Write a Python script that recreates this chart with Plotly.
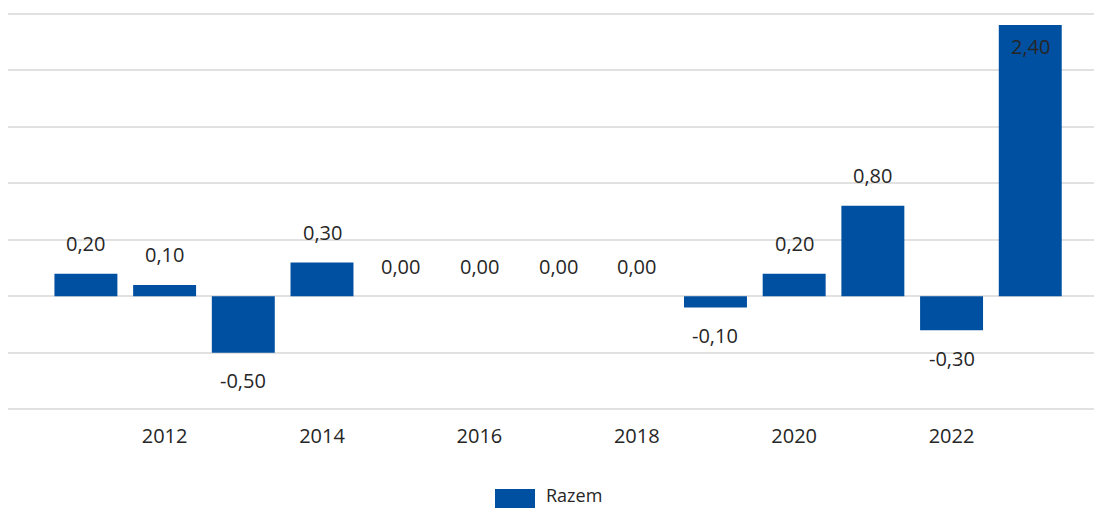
import plotly.graph_objects as go

# Annual change, "Razem" series
years = [2011, 2012, 2013, 2014, 2015, 2016, 2017, 2018, 2019, 2020, 2021, 2022, 2023]
razem = [0.20, 0.10, -0.50, 0.30, 0.00, 0.00, 0.00, 0.00, -0.10, 0.20, 0.80, -0.30, 2.40]
series_name = "Razem"

BAR_COLOR = "#0050a2"
TEXT_COLOR = "#262626"
GRID_COLOR = "#e1e1e1"
FONT = "Open Sans, Noto Sans, sans-serif"

Y_MIN, Y_MAX = -1.05, 2.55

# figure geometry (px)
W, H = 1094, 508
M_L, M_R, M_T, M_B = 8, 0, 8, 93
plot_w = W - M_L - M_R
plot_h = H - M_T - M_B


def px_to_paper_x(px):
    return (px - M_L) / plot_w


def px_to_paper_y(py):
    return (H - M_B - py) / plot_h


fig = go.Figure()
fig.add_trace(go.Bar(
    x=years,
    y=razem,
    name=series_name,
    marker=dict(color=BAR_COLOR, line=dict(width=0)),
    showlegend=False,
    hoverinfo="x+y",
))

# value labels: above positive/zero bars, below negative bars,
# inside the top of a bar that reaches the top of the axis
annotations = []
for yr, v in zip(years, razem):
    label = f"{v:.2f}".replace(".", ",")
    if v + 0.25 > 2.5:
        shift = -22
    elif v >= 0:
        shift = 30
    else:
        shift = -28
    annotations.append(dict(
        x=yr, y=v, xref="x", yref="y", text=label, showarrow=False,
        yshift=shift, xanchor="center", yanchor="middle",
        font=dict(family=FONT, size=20, color=TEXT_COLOR),
    ))

# legend entry
annotations.append(dict(
    x=px_to_paper_x(545), y=px_to_paper_y(495), xref="paper", yref="paper",
    text=series_name, showarrow=False, xanchor="left", yanchor="middle",
    borderpad=0,
    font=dict(family=FONT, size=18, color=TEXT_COLOR),
))
shapes = [dict(
    type="rect", xref="paper", yref="paper",
    x0=px_to_paper_x(495), x1=px_to_paper_x(535),
    y0=px_to_paper_y(489), y1=px_to_paper_y(512),
    fillcolor=BAR_COLOR, line=dict(width=0), layer="above",
)]

fig.update_layout(
    width=W, height=H,
    margin=dict(l=M_L, r=M_R, t=M_T, b=M_B, pad=0),
    paper_bgcolor="white", plot_bgcolor="white",
    bargap=0.2,
    font=dict(family=FONT, size=20, color=TEXT_COLOR),
    annotations=annotations,
    shapes=shapes,
    xaxis=dict(
        range=[2010.01, 2023.81], tick0=2012, dtick=2, showgrid=False,
        zeroline=False, showline=False, ticks="",
        ticklabelstandoff=7,
        tickfont=dict(family=FONT, size=20, color=TEXT_COLOR),
    ),
    yaxis=dict(
        range=[Y_MIN, Y_MAX], tick0=0, dtick=0.5,
        showticklabels=False, showgrid=True, gridcolor=GRID_COLOR, gridwidth=2,
        zeroline=False, showline=False, ticks="",
    ),
)

fig.write_html("out.html")
